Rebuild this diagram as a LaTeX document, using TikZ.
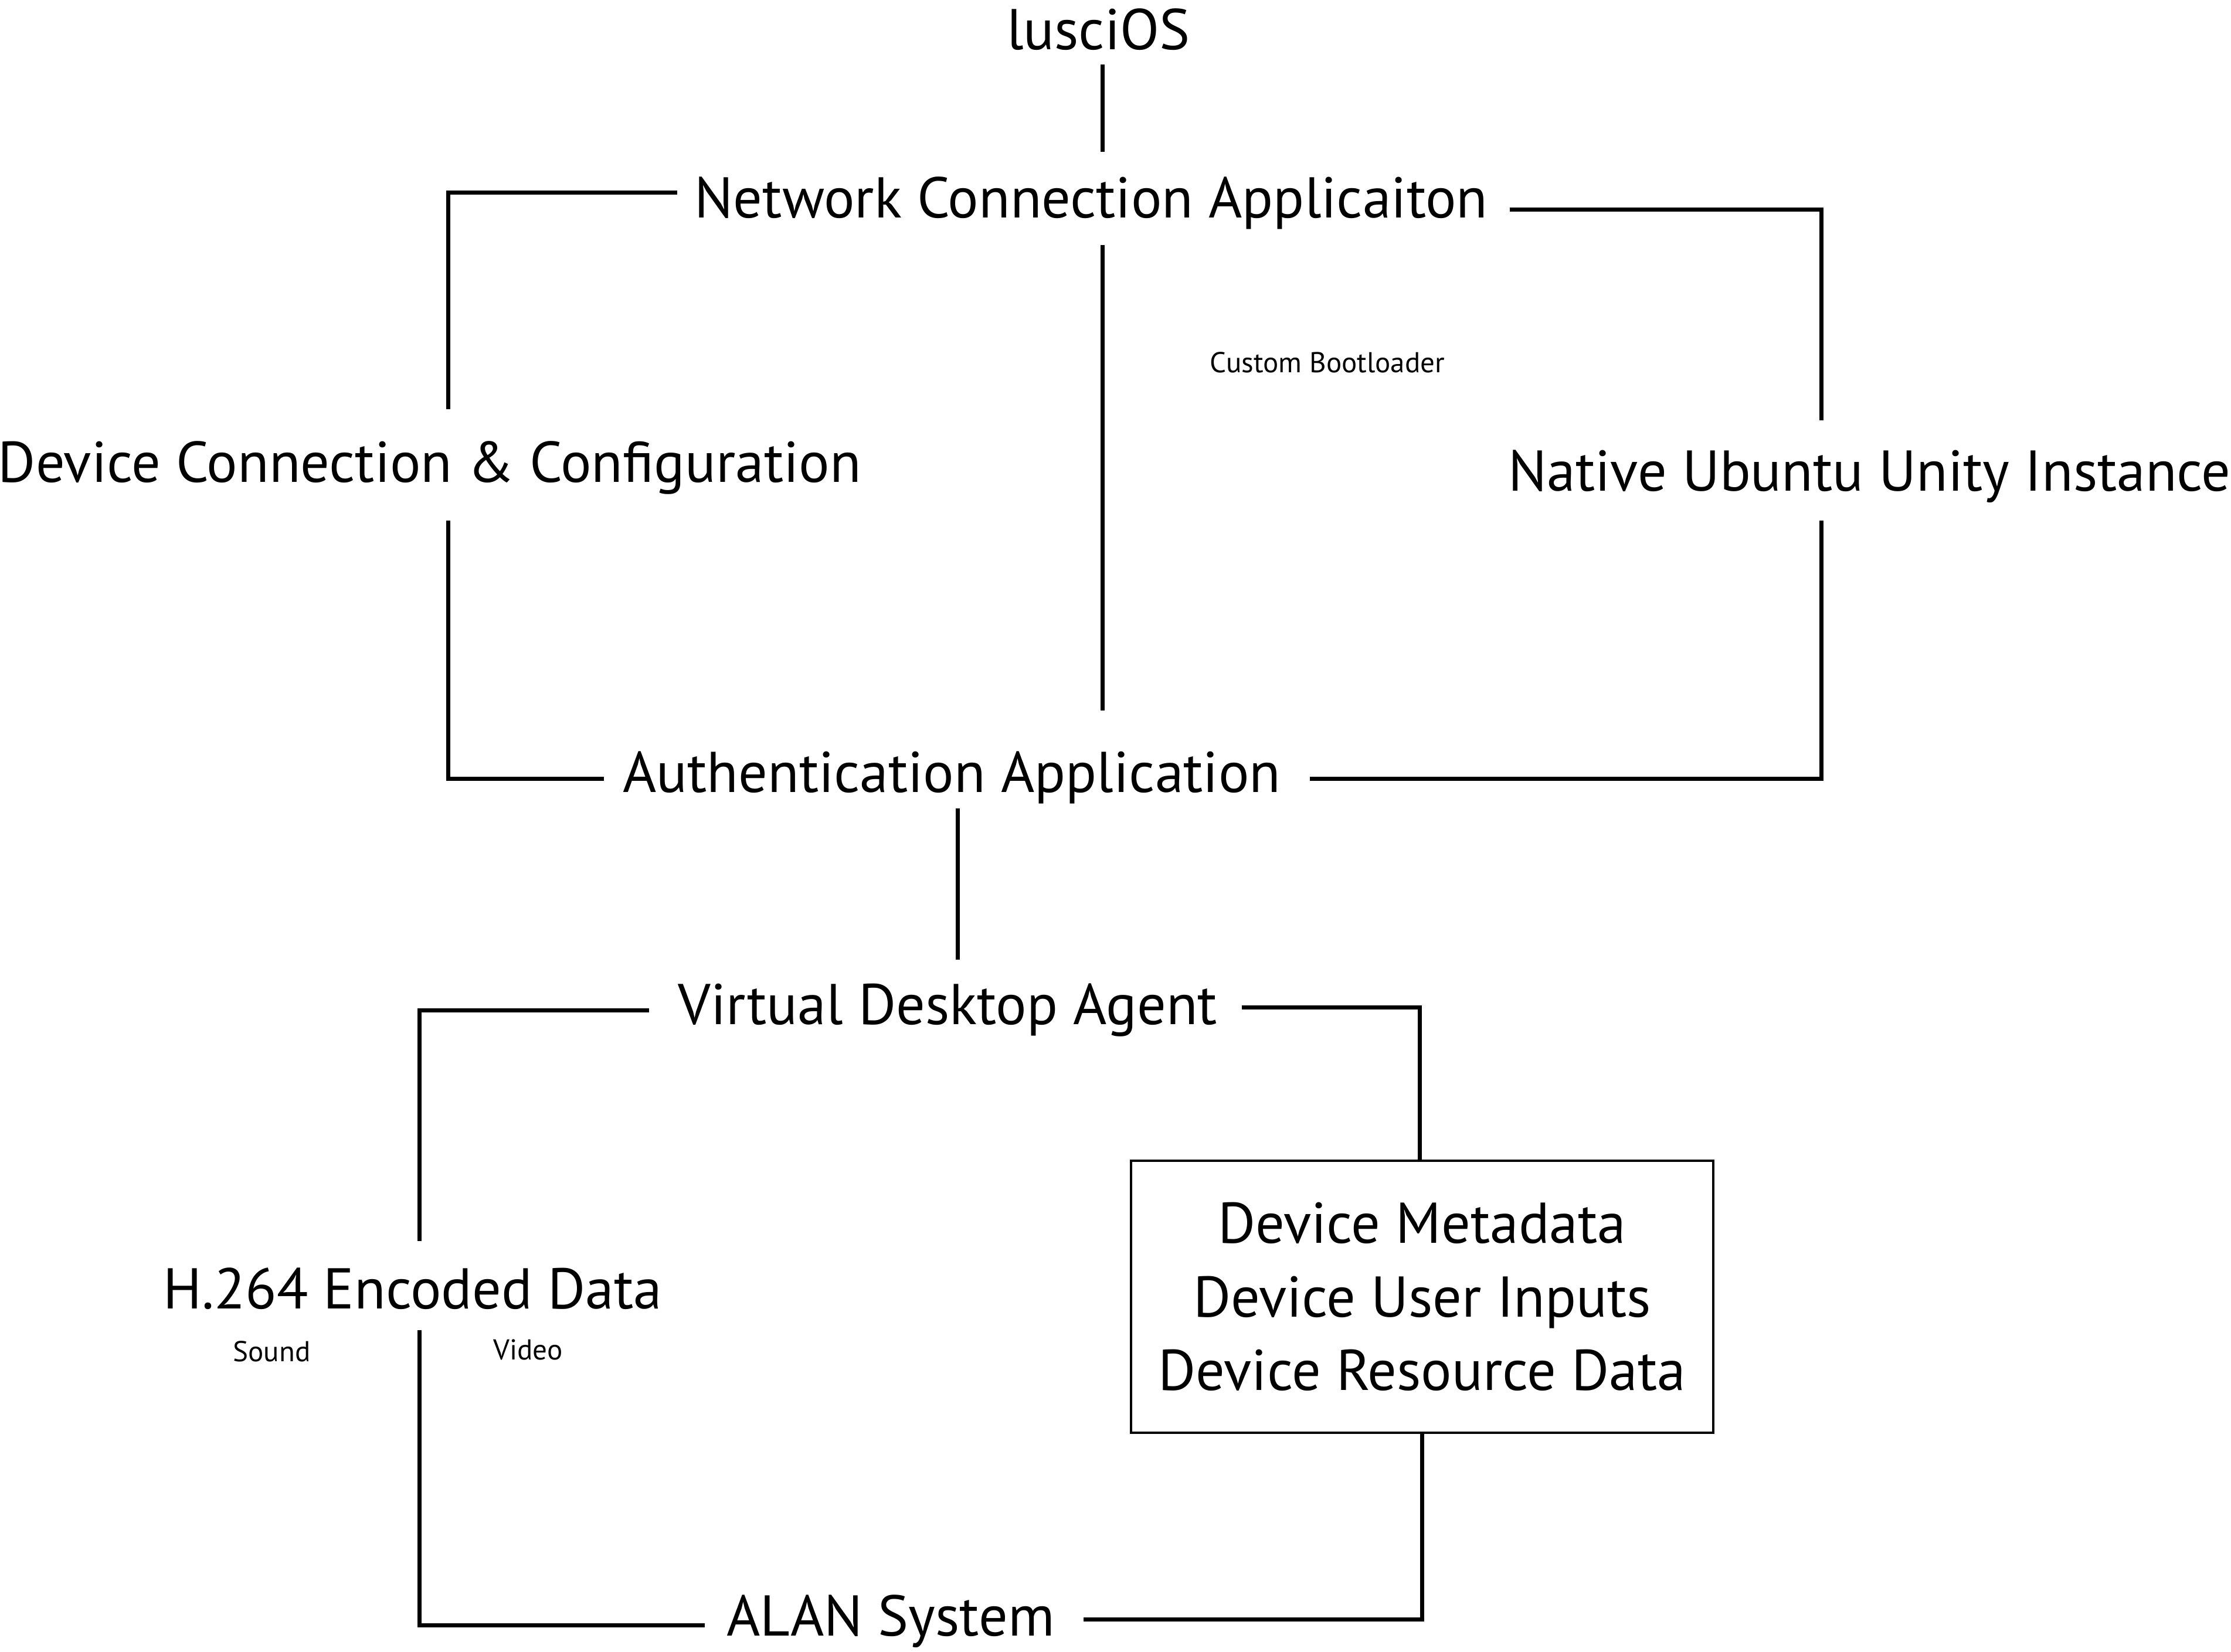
\documentclass[tikz,border=0pt]{standalone}
\usepackage{fontspec}
\setmainfont{PT Sans}
\usepackage{tikz}
\usetikzlibrary{positioning}
\usetikzlibrary{calc}

\tikzset{
	lbl/.style={font=\fontsize{23}{28}\selectfont, inner sep=0pt, text height=16pt, text depth=5pt},
	smalllbl/.style={font=\fontsize{11.5}{14}\selectfont, inner sep=0pt},
	wire/.style={line width=1.65pt},
	databox/.style={draw, line width=0.9pt, minimum width=81.8mm, minimum height=38.2mm, align=center, font=\fontsize{23}{29.5}\selectfont}
}

\begin{document}
\begin{tikzpicture}[x=0.2mm, y=-0.2mm]
		\useasboundingbox (0,0) rectangle (1568,1161);
		%coordinates
		\coordinate (spTop) at (775,0);
		\coordinate (spL)   at (315,0);
		\coordinate (spR)   at (1280,0);
		\coordinate (spAuth) at (673,0);
		\coordinate (spH)   at (295,0);
		\coordinate (spBox) at (998,0);
		
		%nodes
		\node[lbl, anchor=base] (ios) at (772,35) {lusciOS};
		\node[lbl, anchor=base] (net) at (767,153) {Network Connection Applicaiton};
		\node[lbl, anchor=base] (devcon) at (302,339) {Device Connection \& Configuration};
		\node[lbl, anchor=base] (native) at (1314,345) {Native Ubuntu Unity Instance};
		\node[smalllbl, anchor=base] (boot) at (933,262) {Custom Bootloader};
		\node[lbl, anchor=base] (auth) at (669,557) {Authentication Application};
		\node[lbl, anchor=base] (vda) at (666,720) {Virtual Desktop Agent};
		\node[lbl, anchor=base] (h264) at (290,920) {H.264 Encoded Data};
		\node[smalllbl, anchor=base] (sound) at (191,957) {Sound};
		\node[smalllbl, anchor=base] (video) at (371,956) {Video};
		\node[databox] (devdata) at (999.5,911.5) {Device Metadata\\Device User Inputs\\Device Resource Data};
		\node[lbl, anchor=base] (alan) at (626,1150) {ALAN System};
		
		%upper part
		\draw[wire] ($(spTop |- ios.south)+(0,1)$) -- ($(spTop |- net.north)+(0,-18)$);
		\draw[wire] ($(net.west)+(-12,-8)$) -| ($(spL |- devcon.north)+(0,-23)$);
		\draw[wire] ($(spL |- devcon.south)+(0,18)$) |- ($(auth.west)+(-13,0)$);
		\draw[wire] ($(net.east)+(15,4)$) -| ($(spR |- native.north)+(0,-21)$);
		\draw[wire] ($(spR |- native.south)+(0,12)$) |- ($(auth.east)+(20,0)$);
		\draw[wire] ($(spTop |- net.south)+(0,10)$) -- ($(spTop |- auth.north)+(0,-29)$);
		
		%lower part
		\draw[wire] ($(spAuth |- auth.south)+(0,2)$) -- ($(spAuth |- vda.north)+(0,-17)$);
		\draw[wire] ($(vda.west)+(-20,0)$) -| ($(spH |- h264.north)+(0,-19)$);
		\draw[wire] ($(spH |- h264.south)+(0,6)$) |- ($(alan.west)+(-15,2)$);
		\draw[wire] ($(vda.east)+(17,-2)$) -| (spBox |- devdata.north);
		\draw[wire] (devdata.south) |- ($(alan.east)+(20,-2)$);
\end{tikzpicture}
\end{document}
